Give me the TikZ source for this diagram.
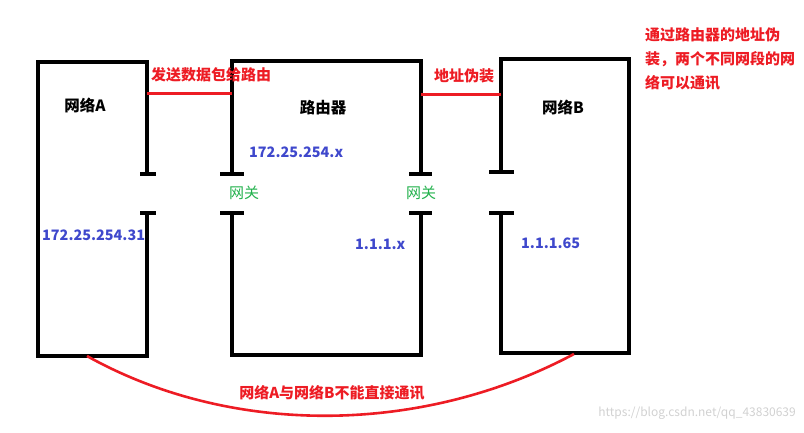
\documentclass[tikz,border=0pt]{standalone}
\usepackage{fontspec}
\setmainfont{Noto Sans CJK SC}
\usetikzlibrary{positioning}
\definecolor{wallcol}{RGB}{0, 0, 0}
\definecolor{notecol}{RGB}{237, 28, 36}
\definecolor{ipcol}{RGB}{63, 72, 204}
\definecolor{gwcol}{RGB}{34, 177, 76}
\tikzset{
  wall/.style={draw=wallcol, line width=3.8pt, line join=miter},
  link/.style={draw=notecol, line width=3pt},
  netlabel/.style={font=\fontsize{15.5}{18}\selectfont\bfseries, text=black, inner sep=0pt},
  iplabel/.style={font=\fontsize{14.4}{17}\selectfont\bfseries, text=ipcol, inner sep=0pt, anchor=west},
  gwlabel/.style={font=\fontsize{15}{17}\selectfont, text=gwcol, inner sep=0pt},
  notelabel/.style={font=\fontsize{15}{17}\selectfont\bfseries, text=notecol, inner sep=0pt, anchor=west},
}

\begin{document}
\begin{tikzpicture}[x=1pt, y=-1pt]
  \useasboundingbox (0,0) rectangle (804,432);

  % --- Network A ---
  \coordinate (aTopL) at (38,62);
  \coordinate (aTopR) at (147,62);
  \coordinate (aBotL) at (38,356);
  \coordinate (aBotR) at (147,356);
  \draw[wall] (147,174) -- (aTopR) -- (aTopL) -- (aBotL) -- (aBotR) -- (147,213);
  \draw[wall] (140,174) -- (156,174);
  \draw[wall] (140,213) -- (156,213);

  % --- Router ---
  \coordinate (rTopL) at (232,61);
  \coordinate (rTopR) at (421,61);
  \coordinate (rBotL) at (232,355);
  \coordinate (rBotR) at (421,355);
  \draw[wall] (232,174) -- (rTopL) -- (rTopR) -- (421,174);
  \draw[wall] (232,213) -- (rBotL) -- (rBotR) -- (421,213);
  \draw[wall] (220,174) -- (244,174);
  \draw[wall] (220,213) -- (244,213);
  \draw[wall] (409,174) -- (432,174);
  \draw[wall] (409,213) -- (432,213);

  % --- Network B ---
  \coordinate (bTopL) at (501,59);
  \coordinate (bTopR) at (629,59);
  \coordinate (bBotL) at (501,353);
  \coordinate (bBotR) at (629,353);
  \draw[wall] (501,172) -- (bTopL) -- (bTopR) -- (bBotR) -- (bBotL) -- (501,213);
  \draw[wall] (489,172) -- (514,172);
  \draw[wall] (489,213) -- (514,213);

  % --- red links ---
  \coordinate (sendL) at (147,93);
  \coordinate (sendR) at (232,93);
  \coordinate (maskL) at (421,94);
  \coordinate (maskR) at (501,94);
  \draw[link] (sendL) -- (sendR);
  \draw[link] (maskL) -- (maskR);
  \node[notelabel] (send) at (151,75) {发送数据包给路由};
  \node[notelabel] (mask) at (434,76) {地址伪装};

  % --- labels ---
  \node[netlabel] (netA) at (85,105) {网络A};
  \node[netlabel] (router) at (323,108) {路由器};
  \node[netlabel] (netB) at (563,107) {网络B};
  \node[iplabel] (ipRa) at (249,152) {172.25.254.x};
  \node[iplabel] (ipA) at (42,235) {172.25.254.31};
  \node[iplabel] (ipRb) at (355,244) {1.1.1.x};
  \node[iplabel] (ipB) at (521,243) {1.1.1.65};
  \node[gwlabel] (gw1) at (244,193) {网关};
  \node[gwlabel] (gw2) at (421,193) {网关};

  % --- note ---
  \node[notelabel] (note1) at (645,35) {通过路由器的地址伪};
  \node[notelabel] (note2) at (645,59) {装，两个不同网段的网};
  \node[notelabel] (note3) at (645,83) {络可以通讯};

  % --- no direct link ---
  \coordinate (curveA) at (87,356);
  \coordinate (curveB) at (574,354);
  \draw[draw=notecol, line width=2.6pt] (curveA) .. controls (230,436) and (420,436) .. (curveB);
  \node[notelabel, anchor=center] (nolink) at (332,393) {网络A与网络B不能直接通讯};

  % --- watermark ---
  \node[font=\fontsize{12}{14}\selectfont, text=black!18, anchor=east, inner sep=0pt] (mark) at (796,413) {https://blog.csdn.net/qq\_43830639};
\end{tikzpicture}
\end{document}
